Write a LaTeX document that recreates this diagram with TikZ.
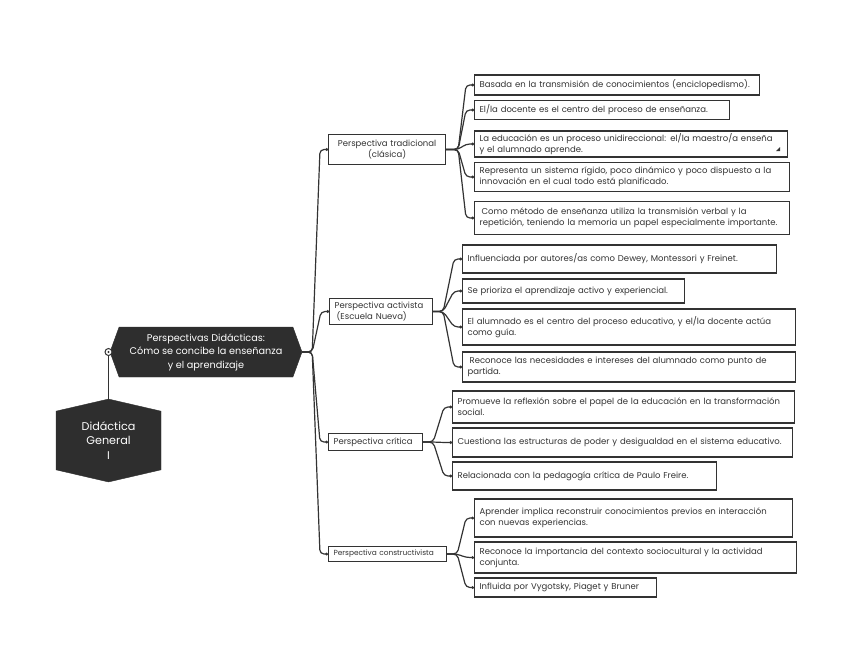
\documentclass[tikz,border=0pt]{standalone}
\usepackage{fontspec}
\setmainfont{Poppins}
\usepackage{tikz}
\usetikzlibrary{arrows.meta,positioning,shapes.symbols}
\definecolor{ink}{HTML}{333333}
\definecolor{hexfill}{HTML}{2E2E2E}

\begin{document}
\begin{tikzpicture}[x=1pt, y=-1pt, >={Circle[length=2.6pt]},
  leaf/.style={draw=ink, line width=1.2pt, fill=white, anchor=west, align=left, inner xsep=5pt, inner ysep=2pt, font=\fontsize{8.5}{11}\selectfont, text=ink},
  persp/.style={leaf, align=center},
  hexa/.style={signal, draw=hexfill, fill=hexfill, text=white, align=center, inner sep=2pt},
  e/.style={->, line width=1.2pt, draw=ink, rounded corners=4pt},
  knob/.style={circle, draw=ink, line width=1pt, fill=white, minimum size=7pt, inner sep=0pt,
    path picture={\fill[ink] (path picture bounding box.center) circle (1.2pt);}}
]
\useasboundingbox (0,0) rectangle (848,658);
\node[hexa, signal to=north and south, signal pointer angle=154, minimum width=105pt, minimum height=72pt,
      font=\fontsize{11.2}{14.5}\selectfont] (root) at (108.5,440.5) {Didáctica\\General\\I};
\node[hexa, signal to=west and east, signal pointer angle=140, minimum width=192pt, minimum height=50pt,
      font=\fontsize{9.7}{13.5}\selectfont] (cen) at (206,352) {Perspectivas Didácticas:\\Cómo se concibe la enseñanza\\y el aprendizaje};
\node[knob] (knob) at (108.5,352) {};
\draw[line width=1.2pt, draw=ink] (root.north) -- (knob.south);

\node[persp, text width=107pt, minimum height=30pt] (p1) at (328,149.5) {Perspectiva tradicional\\(clásica)};
\node[leaf, text width=93pt, minimum height=26pt] (p2) at (329,311.5) {Perspectiva activista\\\hspace*{2pt}(Escuela Nueva)};
\node[leaf, text width=84pt, minimum height=17pt] (p3) at (328,442) {Perspectiva crítica};
\node[leaf, text width=108pt, minimum height=15pt, font=\fontsize{7.4}{9}\selectfont] (p4) at (328,554) {Perspectiva constructivista};

\node[leaf, text width=275pt, minimum height=20pt] (t1) at (474,85) {Basada en la transmisión de conocimientos (enciclopedismo).};
\node[leaf, text width=245pt, minimum height=19pt] (t2) at (474,110) {El/la docente es el centro del proceso de enseñanza.};
\node[leaf, text width=303pt, minimum height=26pt] (t3) at (474,144) {La educación es un proceso unidireccional: el/la maestro/a enseña\\y el alumnado aprende.};
\node[leaf, text width=305pt, minimum height=29pt] (t4) at (474,177) {Representa un sistema rígido, poco dinámico y poco dispuesto a la\\innovación en el cual todo está planificado.};
\node[leaf, text width=305pt, minimum height=33pt] (t5) at (474,218) {\hspace*{2pt}Como método de enseñanza utiliza la transmisión verbal y la\\repetición, teniendo la memoria un papel especialmente importante.};
\fill[ink] (776,151) -- (780,151) -- (780,147) -- cycle;

\node[leaf, text width=304pt, minimum height=28pt] (a1) at (462,259) {Influenciada por autores/as como Dewey, Montessori y Freinet.};
\node[leaf, text width=212pt, minimum height=24pt] (a2) at (462,291) {Se prioriza el aprendizaje activo y experiencial.};
\node[leaf, text width=323pt, minimum height=36pt] (a3) at (462,327) {El alumnado es el centro del proceso educativo, y el/la docente actúa\\como guía.};
\node[leaf, text width=323pt, minimum height=30pt] (a4) at (462,367) {\hspace*{2pt}Reconoce las necesidades e intereses del alumnado como punto de\\partida.};

\node[leaf, text width=332pt, minimum height=32pt] (c1) at (452,407) {Promueve la reflexión sobre el papel de la educación en la transformación\\social.};
\node[leaf, text width=330pt, minimum height=29pt] (c2) at (452,442.5) {Cuestiona las estructuras de poder y desigualdad en el sistema educativo.};
\node[leaf, text width=254pt, minimum height=28pt] (c3) at (452,476) {Relacionada con la pedagogía crítica de Paulo Freire.};

\node[leaf, text width=308pt, minimum height=38pt] (k1) at (474,518) {Aprender implica reconstruir conocimientos previos en interacción\\con nuevas experiencias.};
\node[leaf, text width=312pt, minimum height=31pt] (k2) at (474,557.5) {Reconoce la importancia del contexto sociocultural y la actividad\\conjunta.};
\node[leaf, text width=172pt, minimum height=19pt] (k3) at (474,587.5) {Influida por Vygotsky, Piaget y Bruner};

\foreach \p in {p1,p2,p3,p4}
  \draw[e] (cen.east) -- ++(10,0) -- ([xshift=-8pt]\p.west) -- (\p.west);
\foreach \t in {t1,t2,t3,t4,t5}
  \draw[e] (p1.east) -- ++(12,0) -- ([xshift=-8pt]\t.west) -- (\t.west);
\foreach \t in {a1,a2,a3,a4}
  \draw[e] (p2.east) -- ++(10,0) -- ([xshift=-8pt]\t.west) -- (\t.west);
\foreach \t in {c1,c2,c3}
  \draw[e] (p3.east) -- ++(10,0) -- ([xshift=-8pt]\t.west) -- (\t.west);
\foreach \t in {k1,k2,k3}
  \draw[e] (p4.east) -- ++(10,0) -- ([xshift=-8pt]\t.west) -- (\t.west);
\end{tikzpicture}
\end{document}
